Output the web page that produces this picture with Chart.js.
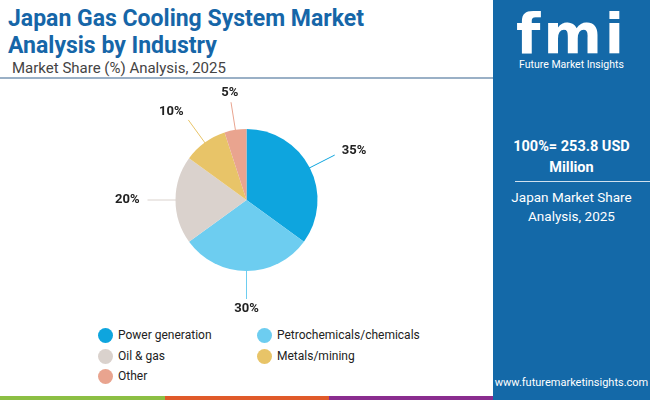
<!DOCTYPE html>
<html>
<head>
<meta charset="utf-8">
<script src="https://cdn.jsdelivr.net/npm/chart.js@4"></script>
<style>
body{margin:0;width:650px;height:400px;overflow:hidden;font-family:Roboto,sans-serif;background:#fff;position:relative}
#title{position:absolute;left:8px;top:5px;font:700 23px Roboto;color:#1666a8;line-height:27px}
#sub{position:absolute;left:12px;top:59px;font:15px Roboto;color:#444}
#rule{position:absolute;left:0;top:77px;width:493px;height:2px;background:#9ab0c6}
#side{position:absolute;left:493px;top:0;width:157px;height:400px;background:#1469a8;color:#fff;text-align:center}
#logo{position:absolute;top:6px;left:0;width:157px;font:900 56px 'DejaVu Sans';letter-spacing:3px;line-height:56px}
#logosub{position:absolute;top:58px;left:0;width:157px;font:10.5px Roboto}
#tot{position:absolute;top:136px;left:0;width:157px;font:700 14.5px Roboto;line-height:21px}
#hr{position:absolute;top:181px;left:22px;width:140px;height:1px;background:#cfe0ee}
#mk{position:absolute;top:188px;left:0;width:157px;font:13.5px Roboto;line-height:19px}
#url{position:absolute;top:376px;left:0;width:157px;font:11px Roboto}
#wrap{position:absolute;left:0;top:80px;width:493px;height:240px}
#legend{position:absolute;left:98px;top:328px;font:12px Roboto;color:#222}
.li{position:absolute;white-space:nowrap}
.li span{display:inline-block;width:15px;height:15px;border-radius:50%;vertical-align:middle;margin-right:5px}
.bar{position:absolute;top:396px;height:4px}
</style>
</head>
<body>
<div id="title">Japan Gas Cooling System Market<br>Analysis by Industry</div>
<div id="sub">Market Share (%) Analysis, 2025</div>
<div id="rule"></div>
<div id="wrap"><canvas id="Chart1"></canvas></div>
<div id="legend"></div>
<div class="bar" style="left:0;width:165px;background:#8cbf44"></div>
<div class="bar" style="left:165px;width:164px;background:#e05a2a"></div>
<div class="bar" style="left:329px;width:164px;background:#8a2d8f"></div>
<div id="side">
  <div id="logo">fmi</div>
  <div id="logosub">Future Market Insights</div>
  <div id="tot">100%= 253.8 USD<br>Million</div>
  <div id="hr"></div>
  <div id="mk">Japan Market Share<br>Analysis, 2025</div>
  <div id="url">www.futuremarketinsights.com</div>
</div>
<script>
var labels = ["Power generation", "Petrochemicals/chemicals", "Oil & gas", "Metals/mining", "Other"];
var shares = [35, 30, 20, 10, 5];
var colors = ["#0ea5de", "#6dcdf0", "#dad2cd", "#e8c468", "#e9a48f"];

var legPos = [[0,0],[159,0],[0,21],[159,21],[0,41]];
var leg = document.getElementById("legend");
labels.forEach(function (l, i) {
  var d = document.createElement("div");
  d.className = "li";
  d.style.left = legPos[i][0] + "px";
  d.style.top = legPos[i][1] + "px";
  d.innerHTML = '<span style="background:' + colors[i] + '"></span>' + l;
  leg.appendChild(d);
});

var outLabels = {
  id: 'outLabels',
  afterDraw: function (chart) {
    var ctx = chart.ctx;
    chart.getDatasetMeta(0).data.forEach(function (arc, i) {
      var a = (arc.startAngle + arc.endAngle) / 2;
      var r = arc.outerRadius;
      var cx = arc.x, cy = arc.y;
      var c = Math.cos(a), s = Math.sin(a);
      ctx.strokeStyle = colors[i];
      ctx.lineWidth = 1;
      ctx.beginPath();
      ctx.moveTo(cx + c * (r - 2), cy + s * (r - 2));
      ctx.lineTo(cx + c * (r + 28), cy + s * (r + 28));
      ctx.stroke();
      ctx.fillStyle = "#222";
      ctx.font = "bold 13px Roboto";
      ctx.textAlign = c > 0.3 ? "left" : (c < -0.3 ? "right" : "center");
      ctx.textBaseline = "middle";
      ctx.fillText(shares[i] + "%", cx + c * (r + 36), cy + s * (r + 38));
    });
  }
};

new Chart(document.getElementById("Chart1").getContext('2d'), {
  type: 'pie',
  data: {
    labels: labels,
    datasets: [{ data: shares, backgroundColor: colors, borderWidth: 0 }]
  },
  options: {
    responsive: true,
    maintainAspectRatio: false,
    animation: false,
    layout: { padding: { top: 49, bottom: 49 } },
    plugins: { legend: { display: false }, tooltip: { enabled: false } }
  },
  plugins: [outLabels]
});
</script>
</body>
</html>
